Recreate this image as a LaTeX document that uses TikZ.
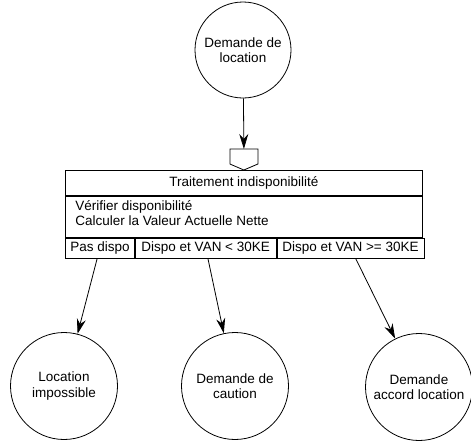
\documentclass[tikz,border=0pt]{standalone}
\usepackage{fontspec}
\setmainfont{Liberation Sans}
\usetikzlibrary{arrows.meta,positioning}

\begin{document}
\begin{tikzpicture}[x=1pt, y=-1pt, line width=0.8pt,
        font=\fontsize{13.5}{15.5}\selectfont,
        etat/.style={draw, circle, align=center, inner sep=0pt},
        cell/.style={draw, inner sep=0pt, anchor=north west, minimum height=20pt},
        >={Stealth[length=15pt, width=9pt]}]
        \useasboundingbox (0,0) rectangle (471,442);

        \node [etat, minimum size=96pt] (demande) at (243,50) {Demande de\\location};

        \node [cell, minimum width=357pt, minimum height=25pt] (titre) at (65,170) {Traitement indisponibilité};
        \node [cell, minimum width=357pt, minimum height=41pt] (corps) at (titre.south west) {};
        \node [anchor=north west, align=left, inner sep=0pt] (actions) at ([shift={(10pt,-4pt)}]corps.north west) {Vérifier disponibilité\\Calculer la Valeur Actuelle Nette};
        \node [cell, minimum width=69pt] (pasdispo) at (corps.south west) {Pas dispo};
        \node [cell, minimum width=141pt] (vanfaible) at (pasdispo.north east) {Dispo et VAN < 30KE};
        \node [cell, minimum width=147pt] (vanforte) at (vanfaible.north east) {Dispo et VAN >= 30KE};

        % port d'entree
        \draw (titre.north) -- ++(-14,-6) -- ++(0,-15) -- ++(14,0) coordinate (port) -- ++(14,0) -- ++(0,15) -- cycle;

        \node [etat, minimum size=107pt] (impossible) at (64,386) {Location\\impossible};
        \node [etat, minimum size=107pt] (caution) at (235,386) {Demande de\\caution};
        \node [etat, minimum size=107pt] (accord) at (419,387) {Demande\\accord location};

        \draw [->] (demande) -- (port);
        \draw [->] (pasdispo) -- (impossible);
        \draw [->] (vanfaible) -- (caution);
        \draw [->] (vanforte) -- (accord);
    \end{tikzpicture}
\end{document}
